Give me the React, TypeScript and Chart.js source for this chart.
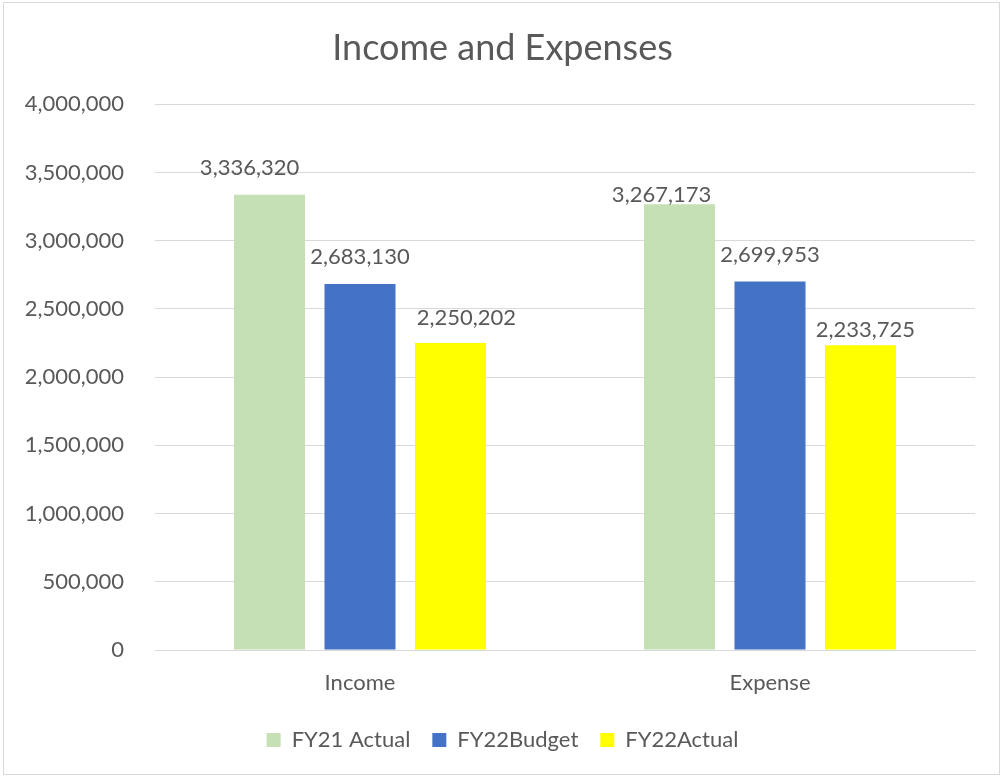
import React, { useEffect, useRef } from "react";
import { Chart, registerables } from "chart.js";

Chart.register(...registerables);

// ---- data ----
const categories = ["Income", "Expense"];
const seriesNames = ["FY21 Actual", "FY22Budget", "FY22Actual"];
const fy21Actual = [3336320, 3267173];
const fy22Budget = [2683130, 2699953];
const fy22Actual = [2250202, 2233725];
const yTickValues = [0, 500000, 1000000, 1500000, 2000000, 2500000, 3000000, 3500000, 4000000];

// ---- styles ----
const FONT = "Lato, 'Open Sans', sans-serif";
const TEXT = "#595959";
const GRID = "#D9D9D9";
const COLORS = ["#C5E0B4", "#4472C4", "#FFFF00"];

// label nudges (dataset index -> per category [dx, dy]) in pixels
const LABEL_NUDGES: number[][][] = [
  [[-20, 0], [-18, 18]],
  [[0, 0], [0, 0]],
  [[16, 2], [5, 12]],
];

const valueLabelPlugin = {
  id: "valueLabels",
  afterDatasetsDraw(chart: any) {
    const { ctx } = chart;
    ctx.save();
    ctx.font = `22px ${FONT}`;
    ctx.fillStyle = TEXT;
    ctx.textAlign = "center";
    ctx.textBaseline = "alphabetic";
    chart.data.datasets.forEach((ds: any, di: number) => {
      const meta = chart.getDatasetMeta(di);
      meta.data.forEach((bar: any, i: number) => {
        const v = ds.data[i] as number;
        const [dx, dy] = LABEL_NUDGES[di]?.[i] ?? [0, 0];
        ctx.fillText(v.toLocaleString("en-US"), bar.x + dx, bar.y - 20 + dy);
      });
    });
    ctx.restore();
  },
};

export default function App() {
  const canvasRef = useRef<HTMLCanvasElement | null>(null);

  useEffect(() => {
    if (!canvasRef.current) return;
    const seriesValues = [fy21Actual, fy22Budget, fy22Actual];
    const chart = new Chart(canvasRef.current, {
      type: "bar",
      data: {
        labels: categories,
        datasets: seriesNames.map((name, i) => ({
          label: name,
          data: seriesValues[i],
          backgroundColor: COLORS[i],
          borderWidth: 0,
          categoryPercentage: 0.662,
          barPercentage: 0.785,
          yAxisID: "y",
        })),
      },
      options: {
        responsive: false,
        animation: false,
        layout: { padding: { left: 0, right: 0, top: 0, bottom: 18 } },
        plugins: {
          title: {
            display: true,
            text: "Income and Expenses",
            color: TEXT,
            font: { family: FONT, size: 36, weight: "normal" },
            padding: { top: 27, bottom: 34 },
          },
          legend: {
            display: true,
            position: "bottom",
            labels: {
              color: TEXT,
              font: { family: FONT, size: 22 },
              boxWidth: 14,
              boxHeight: 14,
              padding: 22,
            },
          },
          tooltip: { enabled: false },
        },
        scales: {
          x: {
            grid: { display: false, drawTicks: false },
            border: { display: true, color: GRID, width: 1 },
            ticks: {
              color: TEXT,
              font: { family: FONT, size: 22 },
              padding: 20,
            },
            afterFit: (scale: any) => {
              scale.height = 57;
            },
          },
          y: {
            min: 0,
            max: 4000000,
            grid: { color: GRID, lineWidth: 1, drawTicks: false },
            border: { display: false },
            afterBuildTicks: (scale: any) => {
              scale.ticks = yTickValues.map((v) => ({ value: v }));
            },
            ticks: {
              color: TEXT,
              font: { family: FONT, size: 22 },
              padding: 31,
              callback: (v: any) => Number(v).toLocaleString("en-US"),
            },
            afterFit: (scale: any) => {
              scale.width = 155;
            },
          },
          yRight: {
            type: "linear",
            position: "right",
            display: true,
            min: 0,
            max: 4000000,
            grid: { display: false, drawTicks: false },
            border: { display: false },
            ticks: { display: false },
            afterFit: (scale: any) => {
              scale.width = 30;
            },
          },
        },
      },
      plugins: [valueLabelPlugin],
    });
    return () => chart.destroy();
  }, []);

  return (
    <div
      style={{
        position: "fixed",
        left: 0,
        top: 0,
        width: 1005,
        height: 779,
        background: "#ffffff",
      }}
    >
      <div
        style={{
          position: "absolute",
          left: 3,
          top: 2,
          width: 995,
          height: 771,
          border: "1px solid #D9D9D9",
        }}
      />
      <canvas
        ref={canvasRef}
        width={1005}
        height={779}
        style={{ position: "absolute", left: 0, top: 0 }}
      />
    </div>
  );
}
